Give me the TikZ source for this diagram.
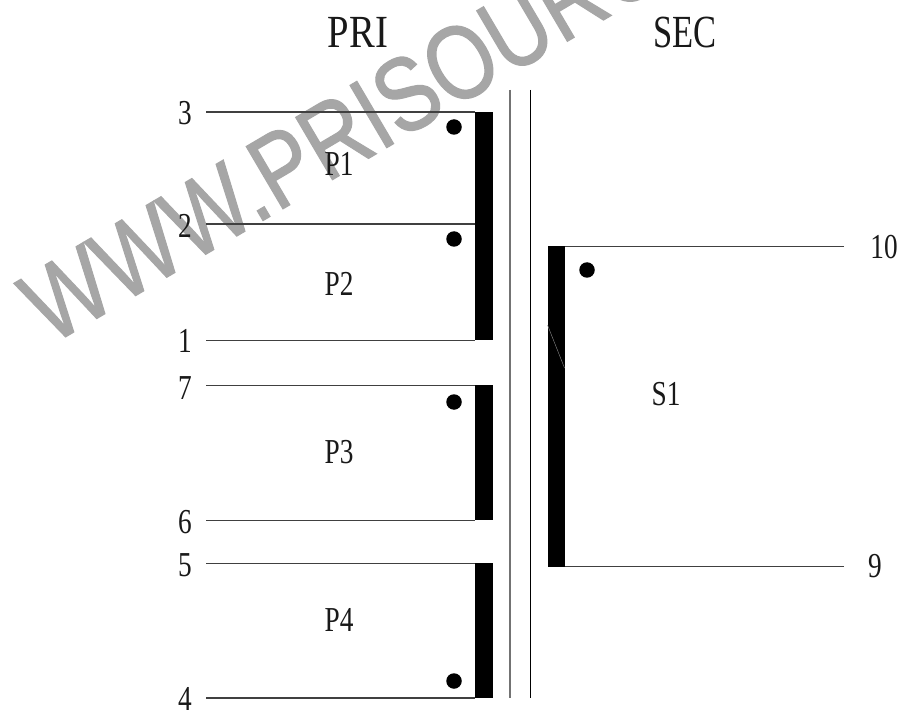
\documentclass[tikz,border=0pt]{standalone}
\usepackage{graphicx}
\usepackage{fontspec}
\setmainfont{Liberation Serif}
\newfontfamily\wmfont{Liberation Sans}[FakeBold=1.2]
\newcommand\biglab[2]{\scalebox{#2}[1]{\fontsize{46}{46}\selectfont #1}}
\newcommand\smlab[1]{\scalebox{.78}[1]{\fontsize{35}{35}\selectfont #1}}
\tikzset{
  lead/.style={draw=black!75,line width=1.1pt},
  barbox/.style={fill=black,draw=none,inner sep=0pt,minimum width=17.5pt,anchor=north west},
  coreline/.style={line width=1.1pt},
  dotmark/.style={circle,fill=black,draw=none,inner sep=0pt,minimum size=15.5pt},
  lab/.style={inner sep=0pt,text=black!90},
  wm/.style={inner sep=0pt,text=black!35,rotate=30.5,anchor=base west,font=\wmfont\fontsize{105}{105}\selectfont}
}
\begin{document}
\begin{tikzpicture}[x=1pt,y=-1pt]
\useasboundingbox (0,0) rectangle (902,711);
\clip (0,0) rectangle (902,711);
\fill[white] (0,0) rectangle (902,711);
\node[wm] (mark) at (50,346) {\scalebox{.82}[1]{WWW.PRISOURCE}};
% bars
\node[barbox,minimum height=228pt] (b1) at (475,112) {};
\node[barbox,minimum height=135pt] (b2) at (475,385) {};
\node[barbox,minimum height=135pt] (b3) at (475,563) {};
\node[barbox,minimum height=321pt] (b4) at (547.5,246) {};
\draw[black!45,line width=.4pt] (b4.north west)++(0,79) -- ++(17,43);
% leads
\coordinate (t3) at (206,112);
\coordinate (t2) at (206,224);
\coordinate (t1) at (206,340.5);
\coordinate (t7) at (206,385.5);
\coordinate (t6) at (206,520.5);
\coordinate (t5) at (206,563.5);
\coordinate (t4) at (206,698);
\coordinate (t10) at (844,246.5);
\coordinate (t9) at (844,566.5);
\draw[lead] (t3) -- (t3 -| b1.west);
\draw[lead] (t2) -- (t2 -| b1.west);
\draw[lead] (t1) -- (t1 -| b1.west);
\draw[lead] (t7) -- (t7 -| b2.west);
\draw[lead] (t6) -- (t6 -| b2.west);
\draw[lead] (t5) -- (t5 -| b3.west);
\draw[lead] (t4) -- (t4 -| b3.west);
\draw[lead] (t10) -- (t10 -| b4.east);
\draw[lead] (t9) -- (t9 -| b4.east);
% core
\coordinate (c1t) at (510,90);
\coordinate (c1b) at (510,698);
\coordinate (c2t) at (530.5,90);
\coordinate (c2b) at (530.5,698);
\draw[coreline,black!55] (c1t) -- (c1b);
\draw[coreline,black] (c2t) -- (c2b);
% dots
\node[dotmark] (d1) at (454,127) {};
\node[dotmark] (d2) at (454,239) {};
\node[dotmark] (d3) at (454,402) {};
\node[dotmark] (d4) at (454,681) {};
\node[dotmark] (d5) at (587,270) {};
% labels
\node[lab] (pri) at (358,32) {\biglab{PRI}{.84}};
\node[lab] (sec) at (685,32) {\biglab{SEC}{.75}};
\node[lab] (l3) at (185,113) {\smlab{3}};
\node[lab] (l2) at (185,226) {\smlab{2}};
\node[lab] (l1) at (185,341) {\smlab{1}};
\node[lab] (l7) at (185,388) {\smlab{7}};
\node[lab] (l6) at (185,522) {\smlab{6}};
\node[lab] (l5) at (185,565) {\smlab{5}};
\node[lab] (l4) at (185,699) {\smlab{4}};
\node[lab] (l10) at (884,247) {\smlab{10}};
\node[lab] (l9) at (875,566) {\smlab{9}};
\node[lab] (p1) at (339,164) {\smlab{P1}};
\node[lab] (p2) at (339,284) {\smlab{P2}};
\node[lab] (p3) at (339,452) {\smlab{P3}};
\node[lab] (p4) at (339,620) {\smlab{P4}};
\node[lab] (s1) at (666,394) {\smlab{S1}};
\end{tikzpicture}
\end{document}
